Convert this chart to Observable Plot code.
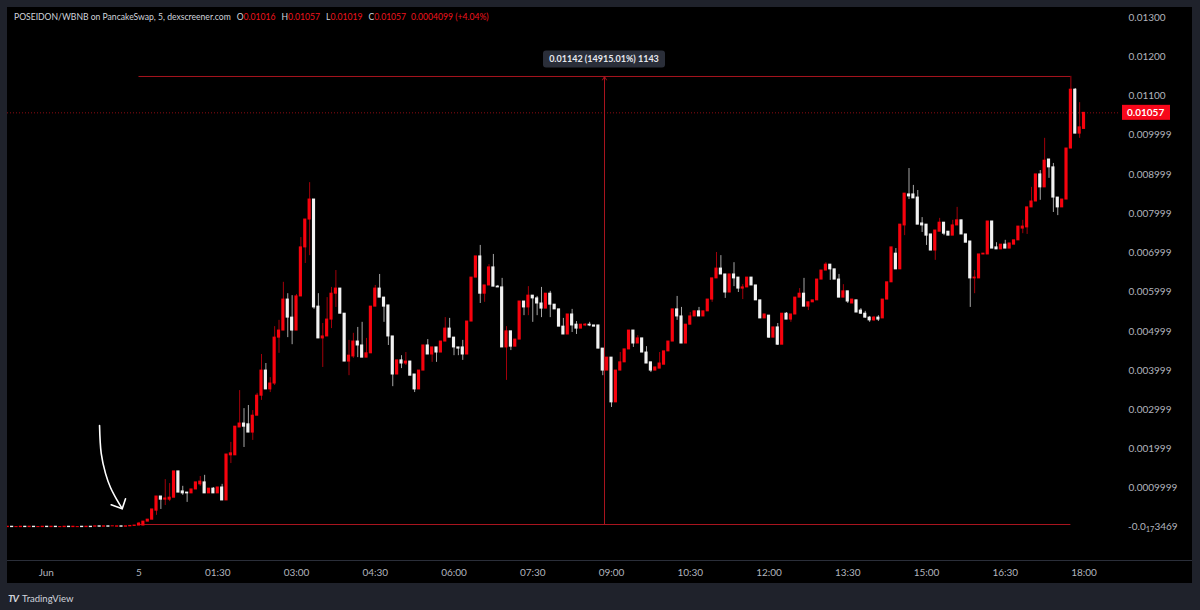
<!DOCTYPE html>
<html><head><meta charset="utf-8">
<script src="https://cdn.jsdelivr.net/npm/d3@7"></script>
<script src="https://cdn.jsdelivr.net/npm/@observablehq/plot@0.6"></script>
<style>
html,body{margin:0;padding:0;background:#1f222b;}
#wrap{position:relative;width:1200px;height:610px;overflow:hidden;font-family:Lato,"Open Sans",sans-serif;}
#panel{position:absolute;left:7px;top:7px;width:1185px;height:576px;background:#000;}
#sep{position:absolute;left:0;top:553px;width:1185px;height:1px;background:#2a2e39;}
#chart{position:absolute;left:0;top:0;}
#legend{position:absolute;left:14px;top:12px;font-size:8.6px;color:#d1d4dc;white-space:pre;}
#legend .k{color:#d1d4dc;margin-left:6px}
#legend .v{color:#f0141e}
#brand{position:absolute;left:8px;top:592px;font-size:9.5px;color:#d1d4dc;}
#brand b{font-size:10px;letter-spacing:-1px;margin-right:4px;font-style:italic}
</style></head>
<body><div id="wrap"><div id="panel"><div id="sep"></div></div><div id="chart"></div><div id="legend"></div><div id="brand"></div></div>
<script>
// ---- header / legend texts ----
const symbolText = "POSEIDON/WBNB on PancakeSwap, 5, dexscreener.com";
const ohlcKeys = ["O", "H", "L", "C"];
const ohlcValues = ["0.01016", "0.01057", "0.01019", "0.01057"];
const changeText = "0.0004099 (+4.04%)";
const brandText = "TradingView";

// ---- time: 5-minute candles, minutes from Jun 5 00:00 ----
const startMinute = -150;
const intervalMinutes = 5;

// ---- OHLC (30 pre-launch candles, then from 00:00 to 18:00) ----
const opens = [
0.00001,0.00002,0.00001,0.00001,0.00002,0.00001,0.00002,0.00001,0.00001,0.00002,
0.00001,0.00002,0.00001,0.00001,0.00002,0.00001,0.00001,0.00002,0.00001,0.00002,
0.00002,0.00003,0.00002,0.00003,0.00003,0.00002,0.00003,0.00002,0.00003,0.00004,
0.00005,0.00005,0.00015,0.00020,0.00043,0.00079,0.00071,0.00071,0.00076,0.00143,
0.00092,0.00089,0.00087,0.00097,0.00110,0.00115,0.00087,0.00099,0.00087,0.00102,
0.00069,0.00184,0.00184,0.00255,0.00265,0.00263,0.00242,0.00285,0.00336,0.00400,
0.00352,0.00367,0.00484,0.00502,0.00581,0.00535,0.00502,0.00589,0.00714,0.00785,
0.00836,0.00563,0.00482,0.00487,0.00530,0.00596,0.00609,0.00545,0.00423,0.00436,
0.00474,0.00464,0.00433,0.00444,0.00563,0.00609,0.00586,0.00566,0.00487,0.00390,
0.00426,0.00418,0.00423,0.00390,0.00352,0.00400,0.00464,0.00441,0.00459,0.00446,
0.00474,0.00507,0.00484,0.00459,0.00459,0.00441,0.00525,0.00637,0.00691,0.00596,
0.00617,0.00663,0.00614,0.00612,0.00459,0.00500,0.00461,0.00479,0.00576,0.00561,
0.00591,0.00584,0.00571,0.00558,0.00596,0.00568,0.00556,0.00512,0.00492,0.00543,
0.00517,0.00507,0.00515,0.00517,0.00515,0.00515,0.00456,0.00400,0.00433,0.00319,
0.00400,0.00421,0.00454,0.00502,0.00469,0.00482,0.00446,0.00421,0.00400,0.00405,
0.00415,0.00449,0.00474,0.00556,0.00538,0.00469,0.00517,0.00538,0.00551,0.00538,
0.00551,0.00581,0.00635,0.00660,0.00645,0.00599,0.00645,0.00637,0.00609,0.00612,
0.00637,0.00617,0.00579,0.00533,0.00540,0.00484,0.00510,0.00466,0.00545,0.00530,
0.00543,0.00586,0.00596,0.00563,0.00574,0.00579,0.00632,0.00655,0.00670,0.00658,
0.00632,0.00586,0.00602,0.00571,0.00579,0.00553,0.00545,0.00535,0.00528,0.00535,
0.00533,0.00581,0.00625,0.00698,0.00658,0.00770,0.00849,0.00849,0.00841,0.00775,
0.00772,0.00747,0.00706,0.00754,0.00777,0.00754,0.00744,0.00770,0.00783,0.00747,
0.00729,0.00635,0.00635,0.00696,0.00696,0.00780,0.00714,0.00709,0.00721,0.00711,
0.00721,0.00732,0.00762,0.00765,0.00816,0.00831,0.00900,0.00867,0.00938,0.00918,
0.00841,0.00816,0.00836,0.00966,0.01116,0.01004,0.01016];

const highs = [
0.00002,0.00002,0.00001,0.00002,0.00002,0.00002,0.00002,0.00001,0.00002,0.00002,
0.00002,0.00002,0.00001,0.00002,0.00002,0.00002,0.00001,0.00002,0.00002,0.00002,
0.00003,0.00003,0.00003,0.00003,0.00003,0.00003,0.00003,0.00003,0.00004,0.00005,
0.00013,0.00015,0.00020,0.00046,0.00079,0.00079,0.00122,0.00112,0.00143,0.00143,
0.00105,0.00089,0.00097,0.00115,0.00130,0.00133,0.00099,0.00102,0.00102,0.00110,
0.00186,0.00217,0.00257,0.00349,0.00303,0.00311,0.00298,0.00342,0.00441,0.00418,
0.00382,0.00512,0.00528,0.00625,0.00596,0.00591,0.00594,0.00739,0.00785,0.00879,
0.00836,0.00596,0.00520,0.00586,0.00612,0.00655,0.00609,0.00545,0.00477,0.00495,
0.00510,0.00523,0.00482,0.00563,0.00617,0.00645,0.00586,0.00566,0.00487,0.00426,
0.00438,0.00446,0.00423,0.00390,0.00400,0.00464,0.00479,0.00459,0.00459,0.00474,
0.00535,0.00533,0.00484,0.00459,0.00477,0.00525,0.00637,0.00691,0.00719,0.00617,
0.00670,0.00696,0.00617,0.00635,0.00512,0.00500,0.00479,0.00576,0.00576,0.00614,
0.00591,0.00589,0.00612,0.00596,0.00602,0.00568,0.00556,0.00533,0.00543,0.00556,
0.00525,0.00517,0.00520,0.00523,0.00515,0.00515,0.00456,0.00433,0.00433,0.00400,
0.00446,0.00454,0.00502,0.00502,0.00489,0.00482,0.00461,0.00421,0.00408,0.00446,
0.00449,0.00474,0.00556,0.00589,0.00561,0.00517,0.00548,0.00551,0.00561,0.00551,
0.00581,0.00635,0.00701,0.00693,0.00645,0.00645,0.00675,0.00637,0.00619,0.00637,
0.00637,0.00617,0.00579,0.00543,0.00540,0.00510,0.00520,0.00545,0.00548,0.00543,
0.00586,0.00609,0.00635,0.00574,0.00579,0.00632,0.00655,0.00675,0.00670,0.00658,
0.00645,0.00619,0.00602,0.00581,0.00579,0.00558,0.00551,0.00538,0.00538,0.00540,
0.00581,0.00625,0.00714,0.00711,0.00772,0.00851,0.00915,0.00872,0.00859,0.00790,
0.00772,0.00747,0.00757,0.00788,0.00777,0.00754,0.00783,0.00816,0.00783,0.00747,
0.00729,0.00655,0.00696,0.00698,0.00780,0.00780,0.00726,0.00721,0.00732,0.00724,
0.00732,0.00767,0.00783,0.00816,0.00867,0.00900,0.00910,0.00992,0.00938,0.00928,
0.00841,0.00836,0.00966,0.01150,0.01119,0.01083,0.01057];

const lows = [
0.00001,0.00001,0.00001,0.00001,0.00001,0.00001,0.00001,0.00001,0.00001,0.00001,
0.00001,0.00001,0.00001,0.00001,0.00001,0.00001,0.00001,0.00001,0.00001,0.00001,
0.00002,0.00002,0.00002,0.00002,0.00003,0.00002,0.00002,0.00002,0.00003,0.00004,
0.00005,0.00005,0.00015,0.00020,0.00031,0.00046,0.00056,0.00066,0.00076,0.00089,
0.00082,0.00064,0.00087,0.00097,0.00105,0.00087,0.00087,0.00087,0.00087,0.00069,
0.00069,0.00163,0.00184,0.00255,0.00204,0.00242,0.00222,0.00285,0.00324,0.00352,
0.00344,0.00362,0.00444,0.00502,0.00484,0.00466,0.00502,0.00589,0.00673,0.00693,
0.00556,0.00482,0.00408,0.00487,0.00507,0.00561,0.00545,0.00423,0.00387,0.00431,
0.00433,0.00433,0.00433,0.00444,0.00563,0.00586,0.00523,0.00464,0.00359,0.00390,
0.00405,0.00413,0.00387,0.00344,0.00352,0.00400,0.00441,0.00421,0.00421,0.00446,
0.00474,0.00484,0.00438,0.00438,0.00426,0.00441,0.00525,0.00637,0.00571,0.00574,
0.00617,0.00614,0.00612,0.00459,0.00375,0.00451,0.00461,0.00479,0.00540,0.00540,
0.00523,0.00540,0.00535,0.00558,0.00535,0.00556,0.00512,0.00492,0.00492,0.00497,
0.00492,0.00507,0.00512,0.00512,0.00512,0.00456,0.00387,0.00400,0.00306,0.00319,
0.00400,0.00421,0.00454,0.00459,0.00469,0.00446,0.00418,0.00395,0.00400,0.00405,
0.00415,0.00449,0.00474,0.00528,0.00469,0.00469,0.00517,0.00538,0.00538,0.00538,
0.00551,0.00574,0.00635,0.00645,0.00584,0.00599,0.00614,0.00599,0.00581,0.00612,
0.00617,0.00579,0.00533,0.00533,0.00482,0.00484,0.00464,0.00466,0.00530,0.00523,
0.00543,0.00586,0.00563,0.00553,0.00574,0.00579,0.00632,0.00655,0.00630,0.00632,
0.00586,0.00586,0.00571,0.00571,0.00548,0.00543,0.00533,0.00523,0.00525,0.00525,
0.00533,0.00581,0.00625,0.00658,0.00658,0.00744,0.00836,0.00839,0.00772,0.00752,
0.00719,0.00706,0.00681,0.00754,0.00744,0.00744,0.00744,0.00770,0.00747,0.00726,
0.00561,0.00596,0.00635,0.00696,0.00696,0.00711,0.00709,0.00709,0.00711,0.00711,
0.00721,0.00732,0.00749,0.00747,0.00816,0.00831,0.00834,0.00867,0.00890,0.00803,
0.00795,0.00816,0.00836,0.00966,0.01004,0.00992,0.01016];

const closes = [
0.00002,0.00001,0.00001,0.00002,0.00001,0.00002,0.00001,0.00001,0.00002,0.00001,
0.00002,0.00001,0.00001,0.00002,0.00001,0.00002,0.00001,0.00001,0.00002,0.00001,
0.00003,0.00002,0.00003,0.00002,0.00003,0.00003,0.00002,0.00003,0.00004,0.00005,
0.00010,0.00015,0.00020,0.00046,0.00079,0.00071,0.00074,0.00076,0.00143,0.00089,
0.00087,0.00087,0.00097,0.00115,0.00117,0.00087,0.00099,0.00087,0.00102,0.00069,
0.00186,0.00189,0.00257,0.00265,0.00257,0.00242,0.00285,0.00336,0.00400,0.00352,
0.00367,0.00484,0.00502,0.00581,0.00535,0.00502,0.00589,0.00714,0.00785,0.00836,
0.00561,0.00482,0.00487,0.00530,0.00596,0.00609,0.00545,0.00423,0.00438,0.00474,
0.00464,0.00433,0.00444,0.00563,0.00609,0.00586,0.00563,0.00487,0.00390,0.00426,
0.00418,0.00423,0.00387,0.00352,0.00400,0.00464,0.00441,0.00459,0.00446,0.00474,
0.00507,0.00484,0.00459,0.00456,0.00441,0.00525,0.00637,0.00691,0.00596,0.00617,
0.00663,0.00614,0.00612,0.00459,0.00500,0.00461,0.00479,0.00576,0.00561,0.00591,
0.00584,0.00571,0.00558,0.00596,0.00568,0.00556,0.00512,0.00492,0.00543,0.00515,
0.00507,0.00517,0.00517,0.00515,0.00512,0.00456,0.00400,0.00433,0.00319,0.00400,
0.00421,0.00454,0.00502,0.00469,0.00482,0.00446,0.00418,0.00400,0.00408,0.00418,
0.00449,0.00474,0.00556,0.00538,0.00469,0.00517,0.00538,0.00551,0.00538,0.00551,
0.00581,0.00635,0.00660,0.00645,0.00599,0.00645,0.00635,0.00609,0.00612,0.00637,
0.00617,0.00579,0.00533,0.00543,0.00484,0.00510,0.00466,0.00545,0.00530,0.00543,
0.00586,0.00596,0.00563,0.00574,0.00579,0.00632,0.00655,0.00670,0.00658,0.00632,
0.00586,0.00602,0.00576,0.00581,0.00548,0.00545,0.00535,0.00528,0.00535,0.00530,
0.00581,0.00625,0.00714,0.00658,0.00772,0.00851,0.00844,0.00839,0.00772,0.00770,
0.00744,0.00706,0.00757,0.00777,0.00749,0.00744,0.00770,0.00783,0.00747,0.00726,
0.00635,0.00637,0.00696,0.00698,0.00780,0.00711,0.00709,0.00721,0.00711,0.00724,
0.00732,0.00767,0.00767,0.00816,0.00831,0.00900,0.00867,0.00935,0.00918,0.00841,
0.00816,0.00836,0.00966,0.01116,0.01004,0.01020,0.01057];

// ---- axes ----
const yTickValues = [0.013, 0.012, 0.011, 0.010, 0.009, 0.008, 0.007, 0.006, 0.005, 0.004, 0.003, 0.002, 0.001];
const yTickLabels = ["0.01300", "0.01200", "0.01100", "0.009999", "0.008999", "0.007999", "0.006999", "0.005999", "0.004999", "0.003999", "0.002999", "0.001999", "0.0009999"];
const zeroTickValue = 0;
const zeroTickParts = ["-0.0", "17", "3469"];   // -0.0₁₇3469
const xTickValues = [-106, 0, 90, 180, 270, 360, 450, 540, 630, 720, 810, 900, 990, 1080];
const xTickLabels = ["Jun", "5", "01:30", "03:00", "04:30", "06:00", "07:30", "09:00", "10:30", "12:00", "13:30", "15:00", "16:30", "18:00"];

// ---- last price & measurement annotation ----
const lastPrice = 0.01057;
const lastPriceLabel = "0.01057";
const measureStart = 0, measureEnd = 1065, measureMid = 532;
const measureBase = 0.0000766, measureTop = 0.0114966;
const measureLabel = "0.01142 (14915.01%) 1143";

// ---- hand-drawn arrow (minutes, price) ----
const arrowShaft = [[-45.1, 0.00260], [-43.2, 0.00189], [-38.3, 0.00138], [-32.6, 0.00102], [-24.9, 0.00069], [-19.2, 0.00048]];
const arrowHead = [[-31.8, 0.00058], [-19.2, 0.00048], [-15.4, 0.00073]];

// ---- build ----
const candles = opens.map((o, i) => ({
  t: startMinute + intervalMinutes * i, o, h: highs[i], l: lows[i], c: closes[i], up: closes[i] >= o
}));
const upC = candles.filter(d => d.up), dnC = candles.filter(d => !d.up);
const yLab = new Map(yTickValues.map((v, i) => [v, yTickLabels[i]]));
const xLab = new Map(xTickValues.map((v, i) => [v, xTickLabels[i]]));

const RED = "#f7020d", WHITE = "#f2f2f2", RED_WICK = "#a3000a", WHITE_WICK = "#a6a6a6", MEAS = "#a8141e";
const AXIS = "#b2b5be";
const half = 1.8;

function measureBox(index, {x, y}) {
  const cx = x(measureMid), cy = y(measureTop) - 17;
  const g = d3.create("svg:g");
  g.append("rect").attr("x", cx - 61).attr("y", cy - 8.5).attr("width", 122).attr("height", 17)
    .attr("rx", 3).attr("fill", "#2a2e39");
  g.append("text").attr("x", cx).attr("y", cy).attr("dy", "0.35em").attr("text-anchor", "middle")
    .attr("fill", "#e6e8ee").attr("font-size", "9px").attr("font-weight", "bold").text(measureLabel);
  return g.node();
}
function priceTag(index, {y}, values, {width, marginRight}) {
  const cy = y(lastPrice), x0 = width - marginRight + 2;
  const g = d3.create("svg:g");
  g.append("rect").attr("x", x0).attr("y", cy - 7.5).attr("width", 48).attr("height", 15).attr("fill", "#f7071a");
  g.append("text").attr("x", x0 + 5).attr("y", cy).attr("dy", "0.35em").attr("fill", "#fff")
    .attr("text-anchor", "start").attr("font-size", "10px").attr("font-weight", "bold").text(lastPriceLabel);
  return g.node();
}
function zeroTick(index, {y}, values, {width, marginRight}) {
  const g = d3.create("svg:g");
  const t = g.append("text").attr("x", width - marginRight + 8).attr("y", y(zeroTickValue)).attr("dy", "0.32em")
    .attr("text-anchor", "start").attr("fill", AXIS).attr("font-size", "10px");
  t.append("tspan").text(zeroTickParts[0]);
  t.append("tspan").attr("font-size", "7.5px").attr("dy", "1.5").text(zeroTickParts[1]);
  t.append("tspan").attr("dy", "-1.5").text(zeroTickParts[2]);
  return g.node();
}

const chart = Plot.plot({
  width: 1200, height: 610,
  marginLeft: 7, marginRight: 80, marginTop: 7, marginBottom: 50,
  style: {background: "transparent", fontFamily: "Lato, 'Open Sans', sans-serif", fontSize: "10px", color: AXIS},
  x: {type: "linear", domain: [-150.3, 1121.7]},
  y: {domain: [-0.000841, 0.013255]},
  marks: [
    Plot.ruleY([lastPrice], {stroke: "#c8101a", strokeDasharray: "1,2", strokeOpacity: 0.7}),
    Plot.ruleY([measureBase, measureTop], {x1: measureStart, x2: measureEnd, stroke: MEAS, strokeWidth: 1}),
    Plot.arrow([0], {x1: measureMid, x2: measureMid, y1: measureBase, y2: measureTop, stroke: MEAS, strokeWidth: 1, headLength: 6, bend: 0}),
    Plot.ruleX(upC, {x: "t", y1: "l", y2: "h", stroke: RED_WICK, strokeWidth: 1, clip: true}),
    Plot.ruleX(dnC, {x: "t", y1: "l", y2: "h", stroke: WHITE_WICK, strokeWidth: 1, clip: true}),
    Plot.rect(upC, {x1: d => d.t - half, x2: d => d.t + half, y1: "o", y2: "c", fill: RED, insetTop: -0.5, insetBottom: -0.5, clip: true}),
    Plot.rect(dnC, {x1: d => d.t - half, x2: d => d.t + half, y1: "o", y2: "c", fill: WHITE, insetTop: -0.5, insetBottom: -0.5, clip: true}),
    Plot.line(arrowShaft, {x: d => d[0], y: d => d[1], curve: "catmull-rom", stroke: "#fff", strokeWidth: 1.6}),
    Plot.line(arrowHead, {x: d => d[0], y: d => d[1], stroke: "#fff", strokeWidth: 1.6}),
    measureBox,
    Plot.axisY({anchor: "right", ticks: yTickValues, tickFormat: d => yLab.get(d), tickSize: 0, tickPadding: 8, label: null, fill: AXIS}),
    zeroTick,
    priceTag,
    Plot.axisX({ticks: xTickValues, tickFormat: d => xLab.get(d), tickSize: 0, tickPadding: 8, label: null, fill: AXIS})
  ]
});
document.getElementById("chart").appendChild(chart);

// legend line
const lg = document.getElementById("legend");
lg.appendChild(document.createTextNode(symbolText));
ohlcKeys.forEach((k, i) => {
  const s = document.createElement("span"); s.className = "k"; s.textContent = k; lg.appendChild(s);
  const v = document.createElement("span"); v.className = "v"; v.textContent = ohlcValues[i]; lg.appendChild(v);
});
const ch = document.createElement("span"); ch.className = "v"; ch.style.marginLeft = "5px"; ch.textContent = changeText; lg.appendChild(ch);

const br = document.getElementById("brand");
br.innerHTML = "<b>TV</b>";
br.appendChild(document.createTextNode(brandText));
</script>
</body></html>
